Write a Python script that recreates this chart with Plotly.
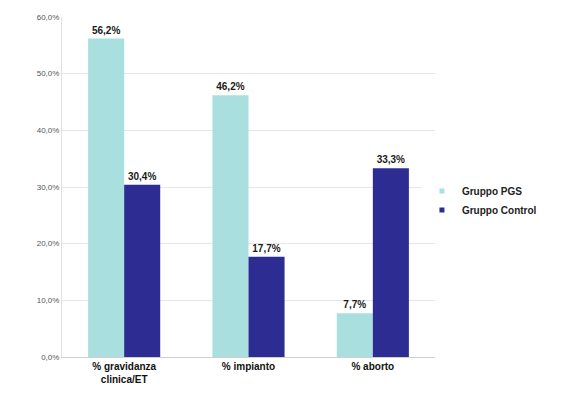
import plotly.graph_objects as go

categories = ["% gravidanza<br>clinica/ET", "% impianto", "% aborto"]
pgs_values = [56.2, 46.2, 7.7]
control_values = [30.4, 17.7, 33.3]
series_names = ["Gruppo PGS", "Gruppo Control"]
series_colors = ["#a9dfdf", "#2c2c92"]
tick_values = [0, 10, 20, 30, 40, 50, 60]

def pct_labels(vals):
    return [f"{v:.1f}".replace(".", ",") + "%" for v in vals]

fig = go.Figure()
for name, vals, color in zip(series_names, [pgs_values, control_values], series_colors):
    fig.add_trace(go.Bar(
        x=categories, y=vals, name=name, showlegend=False,
        marker=dict(color=color, line=dict(width=0)),
        text=pct_labels(vals), textposition="outside",
        texttemplate="<b>%{text}</b>",
        textfont=dict(family="Liberation Sans", size=10, color="#1a1a1a"),
        cliponaxis=False,
    ))
    # small square swatches for the legend
    fig.add_trace(go.Scatter(
        x=[None], y=[None], mode="markers", name=name,
        marker=dict(symbol="square", size=5, color=color),
    ))

fig.update_layout(
    width=581, height=412,
    margin=dict(l=62, r=146, t=17, b=55),
    paper_bgcolor="white", plot_bgcolor="white",
    barmode="group", bargap=0.42, bargroupgap=0,
    separators=",.",
    font=dict(family="Liberation Sans", color="#333333"),
    showlegend=True,
    legend=dict(
        x=0.965, y=0.46, xanchor="left", yanchor="middle",
        font=dict(size=10, color="#222222", family="Liberation Sans", weight="bold"),
        itemwidth=30, tracegroupgap=0,
    ),
    xaxis=dict(
        tickfont=dict(size=10, color="#111111", family="Liberation Sans", weight="bold"),
        showline=True, linecolor="#cfcfcf", linewidth=1,
        ticks="", showgrid=False,
    ),
    yaxis=dict(
        range=[0, 60], tickvals=tick_values,
        ticktext=[f"{v},0%" for v in tick_values],
        tickfont=dict(size=8, color="#555555", family="Liberation Sans"),
        showgrid=True, gridcolor="#e6e6e6", gridwidth=1,
        showline=True, linecolor="#e0e0e0", linewidth=1,
        ticks="", zeroline=False,
    ),
)

fig.write_html("out.html")
